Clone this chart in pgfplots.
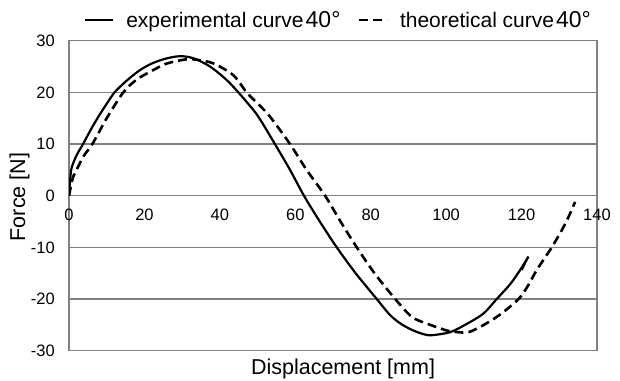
\documentclass[border=0pt]{standalone}
\usepackage{fontspec}
\setmainfont{Liberation Sans}
\usepackage{pgfplots}
\pgfplotsset{compat=1.18}
\definecolor{gridgray}{RGB}{128,128,128}
\begin{document}
\begin{tikzpicture}
\path[use as bounding box] (0,0) rectangle (620pt,380pt);
\begin{axis}[
  name=main,
  scale only axis, width=528pt, height=310pt,
  at={(69pt,29.3pt)}, anchor=south west,
  xmin=0, xmax=140, ymin=-30, ymax=30,
  xtick={0,20,40,60,80,100,120,140},
  xticklabels={0,20,40,60,80,100,120,140},
  ytick={-30,-20,-10,0,10,20,30},
  yticklabels={-30,-20,-10,0,10,20,30},
  ymajorgrids,
  major grid style={gridgray, line width=1.2pt},
  axis line style={gridgray, line width=1.2pt},
  major tick length=0pt,
  tick label style={font=\fontsize{16.5}{17}\selectfont},
  xticklabel style={anchor=center, inner sep=0pt, yshift=135.7pt},
  yticklabel style={anchor=east, inner sep=0pt, xshift=-14pt},
  xlabel={Displacement [mm]},
  xlabel style={at={(axis description cs:0.519,0)}, anchor=base, yshift=-23.3pt, inner sep=0pt, font=\fontsize{21.5}{22}\selectfont},
  legend columns=2,
  legend cell align=left,
  legend image code/.code={\draw[#1] (0pt,0pt) -- (28pt,0pt);},
  legend style={at={(0.5085,1)}, anchor=center, yshift=20.7pt, draw=none, fill=none,
    inner sep=0pt, font=\fontsize{21}{21}\selectfont,
    nodes={inner sep=0pt, anchor=west},
    /tikz/every odd column/.append style={column sep=12pt},
    /tikz/every even column/.append style={column sep=17pt}},
]
\addplot[black, line width=2.2pt, line join=round, smooth, tension=0.5] coordinates {
(0,0) (0.3,3) (0.7,5.4) (2,7.8) (3.8,10.1) (5.8,12.8) (7.8,15.3) (10,17.8)
(12.2,20.1) (15.5,22.4) (18.8,24.3) (22,25.6) (25.5,26.5) (29.4,27.0)
(33,26.6) (37.4,25.0) (41.8,22.4) (44.9,20.0) (47.5,17.8) (50.2,15.3)
(54.6,10.0) (58.6,5.0) (62.3,0) (66.5,-5) (71,-10) (76,-15) (81.6,-20)
(85,-23) (87.8,-24.7) (91,-26) (94,-26.8) (96.2,-27.0) (101.1,-26.4)
(105.5,-24.8) (109.9,-22.8) (113.4,-20.0) (117,-17.1) (119.6,-14.4)
(121.8,-11.8)
};
\addlegendentry{experimental curve\kern2pt{\fontsize{23}{23}\selectfont 40°}}
\addplot[black, line width=2.6pt, dash pattern=on 9pt off 5pt, smooth, tension=0.5] coordinates {
(0,0) (1.1,3.7) (2,5) (4,7.8) (6.2,10) (10,15) (14.4,20) (18,22.5) (22.3,24.3)
(26,25.6) (31.2,26.4) (34,26.3) (38.3,25.6) (43.6,23.3) (47.1,20) (50.5,17.5)
(53.3,15.3) (58.6,10) (63,5) (67.9,0) (72,-5) (76.3,-10) (81,-15) (86.5,-20)
(91,-23.5) (95.8,-25.0) (100.2,-26.1) (103,-26.4) (106,-26.4) (110,-25)
(114.3,-23) (119.2,-20) (121.8,-17.3) (124,-14.4) (128,-10) (131.6,-5.4)
(134.2,-1.2)
};
\addlegendentry{theoretical curve\kern2pt{\fontsize{23}{23}\selectfont 40°}}
\addplot[black, line width=1.6pt, forget plot] coordinates {
(121.8,-11.8) (120.1,-14.4) (120.6,-13.3)
};
\end{axis}
\node[rotate=90, anchor=base, inner sep=0pt, font=\fontsize{21.5}{22}\selectfont]
  at (25pt,183pt) {Force [N]};
\end{tikzpicture}
\end{document}
